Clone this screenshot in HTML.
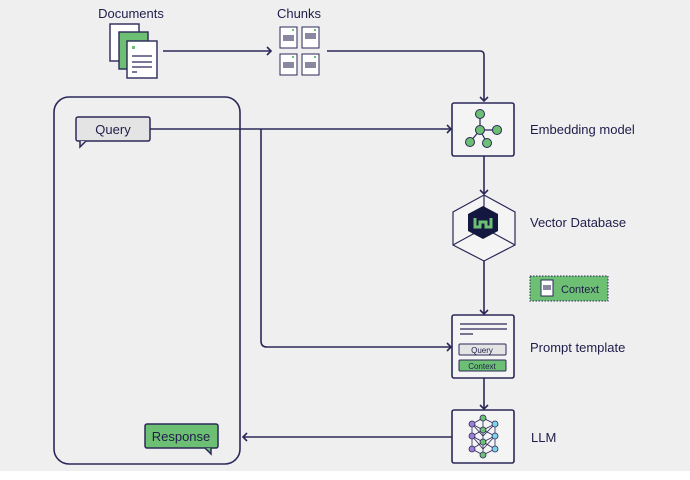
<!DOCTYPE html>
<html><head><style>
body{margin:0;width:690px;height:475px;overflow:hidden;background:#fff}
text{font-family:"Liberation Sans",sans-serif;fill:#1f1d4a}
</style></head><body>
<svg width="690" height="475" viewBox="0 0 690 475" xmlns="http://www.w3.org/2000/svg">
<rect x="0" y="0" width="690" height="471" fill="#efefef"/>
<g fill="none" stroke="#2b2858" stroke-width="1.6">
<rect x="54" y="97" width="186" height="367" rx="15"/>
<path d="M163 51H271"/><path d="M267 47l4 4l-4 4"/>
<path d="M327 51H480q4 0 4 4V101"/><path d="M480 97l4 4l4-4"/>
<path d="M150 129H451"/><path d="M447 125l4 4l-4 4"/>
<path d="M261 129V341q0 6 6 6H451"/><path d="M447 343l4 4l-4 4"/>
<path d="M484 156V194"/><path d="M480 190l4 4l4-4"/>
<path d="M484 261V314"/><path d="M480 310l4 4l4-4"/>
<path d="M484 378V409"/><path d="M480 405l4 4l4-4"/>
<path d="M452 437H243"/><path d="M247 433l-4 4l4 4"/>
</g>
<rect x="76" y="117" width="74" height="24" rx="2" fill="#e4e4e4" stroke="#2b2858" stroke-width="1.5"/>
<path d="M80 141v6l6-6" fill="#e4e4e4" stroke="#2b2858" stroke-width="1.5"/>
<text x="113" y="134" font-size="13" text-anchor="middle">Query</text>
<rect x="145" y="424" width="73" height="24" rx="2" fill="#6dbf73" stroke="#2b2858" stroke-width="1.5"/>
<path d="M205 448l6 6v-6" fill="#6dbf73" stroke="#2b2858" stroke-width="1.5"/>
<text x="181" y="441" font-size="13" text-anchor="middle">Response</text>
<text x="131" y="18" font-size="13" text-anchor="middle">Documents</text>
<rect x="110" y="24" width="29" height="37" fill="#fff" stroke="#2b2858" stroke-width="1.4"/>
<rect x="119" y="32" width="29" height="37" fill="#6dbf73" stroke="#2b2858" stroke-width="1.4"/>
<rect x="127" y="41" width="30" height="37" fill="#fff" stroke="#2b2858" stroke-width="1.4"/>
<rect x="132" y="46" width="3" height="3" fill="#6dbf73"/>
<g stroke="#2b2858" stroke-width="1.2"><path d="M132 56h20M132 62h20M132 67h20M132 72h5"/></g>
<text x="299" y="18" font-size="13" text-anchor="middle">Chunks</text>
<g fill="#fff" stroke="#2b2858" stroke-width="1">
<rect x="280" y="27" width="17" height="21"/><rect x="302" y="27" width="17" height="21"/>
<rect x="280" y="54" width="17" height="21"/><rect x="302" y="54" width="17" height="21"/>
</g>
<g fill="#8a88a0"><rect x="283" y="35" width="11" height="6"/><rect x="305" y="33" width="11" height="6"/><rect x="283" y="62" width="11" height="6"/><rect x="305" y="62" width="11" height="6"/></g>
<g fill="#6dbf73"><rect x="292" y="29" width="2" height="2"/><rect x="314" y="29" width="2" height="2"/><rect x="292" y="56" width="2" height="2"/><rect x="314" y="56" width="2" height="2"/></g>
<rect x="452" y="103" width="62" height="53" rx="2" fill="#f4f4f4" stroke="#2b2858" stroke-width="1.6"/>
<g stroke="#2b2858" stroke-width="1.2" fill="none"><path d="M480 114v16h17M480 130l-10 12M480 130l7 13"/></g>
<g fill="#6dbf73" stroke="#2b2858" stroke-width="1"><circle cx="480" cy="114" r="4.5"/><circle cx="480" cy="130" r="4.5"/><circle cx="497" cy="130" r="4.5"/><circle cx="470" cy="142" r="4.5"/><circle cx="487" cy="143" r="4.5"/></g>
<text x="530" y="134" font-size="13">Embedding model</text>
<polygon points="484,195 515,212 515,245 484,261 453,245 453,212" fill="#f4f4f4" stroke="#2b2858" stroke-width="1.2"/>
<path d="M453 245l31-17 31 17M484 195v33" fill="none" stroke="#2b2858" stroke-width="1.2"/>
<polygon points="483,206 498,214 498,231 483,239 468,231 468,214" fill="#141840"/>
<path d="M475 218v9h5v-5h6v5h5v-9" fill="none" stroke="#6dbf73" stroke-width="3"/>
<text x="530" y="227" font-size="13">Vector Database</text>
<rect x="530" y="276" width="78" height="25" fill="#6dbf73" stroke="#2b2858" stroke-width="1" stroke-dasharray="1.5 1.5"/>
<rect x="541" y="280" width="12" height="16" fill="#fff" stroke="#2b2858" stroke-width="1"/>
<rect x="543" y="285" width="8" height="5" fill="#8a88a0"/>
<text x="561" y="293" font-size="11">Context</text>
<rect x="452" y="315" width="62" height="63" rx="2" fill="#f4f4f4" stroke="#2b2858" stroke-width="1.6"/>
<path d="M460 324h47M460 329h47M460 334h13" stroke="#2b2858" stroke-width="1.2"/>
<rect x="459" y="344" width="47" height="11" rx="1" fill="#e4e4e4" stroke="#2b2858" stroke-width="1"/>
<text x="482" y="353" font-size="8" text-anchor="middle">Query</text>
<rect x="459" y="360" width="47" height="11" rx="1" fill="#6dbf73" stroke="#2b2858" stroke-width="1"/>
<text x="482" y="369" font-size="8" text-anchor="middle">Context</text>
<text x="530" y="352" font-size="13">Prompt template</text>
<rect x="452" y="410" width="62" height="53" rx="2" fill="#f4f4f4" stroke="#2b2858" stroke-width="1.6"/>
<g stroke="#2b2858" stroke-width="0.8" fill="none">
<path d="M472 424L483 418L495 424L483 430L472 424L483 436L495 424M472 436L483 430L495 436L483 442L472 436L483 449L495 436M472 424V449M483 418V455M495 424V449M472 449L483 442L495 449L483 455L472 449"/>
</g>
<g stroke="#2b2858" stroke-width="0.8">
<g fill="#6dbf73"><circle cx="483" cy="418" r="3"/><circle cx="483" cy="430" r="3"/><circle cx="483" cy="442" r="3"/><circle cx="483" cy="455" r="3"/></g>
<g fill="#9b7fd6"><circle cx="472" cy="424" r="3"/><circle cx="472" cy="436" r="3"/><circle cx="472" cy="449" r="3"/></g>
<g fill="#7fd3ea"><circle cx="495" cy="424" r="3"/><circle cx="495" cy="436" r="3"/><circle cx="495" cy="449" r="3"/></g>
</g>
<text x="531" y="442" font-size="13">LLM</text>
</svg>
</body></html>
